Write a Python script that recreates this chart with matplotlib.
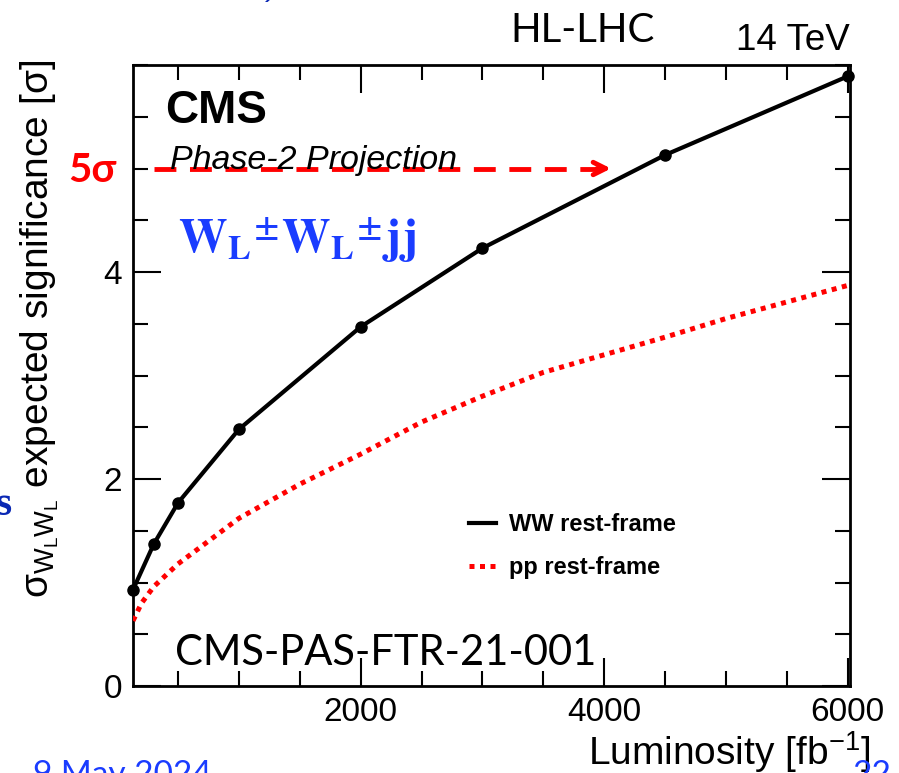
import numpy as np
import matplotlib.pyplot as plt
from matplotlib.ticker import MultipleLocator
from matplotlib.lines import Line2D

plt.rcParams['font.family'] = ['Liberation Sans', 'DejaVu Sans']
plt.rcParams['mathtext.default'] = 'regular'

# expected significance vs integrated luminosity
lumi_ww = [130, 300, 500, 1000, 2000, 3000, 4500, 6000]
sig_ww = [0.93, 1.37, 1.77, 2.48, 3.47, 4.23, 5.13, 5.89]

lumi_pp = [130, 200, 300, 500, 1000, 1500, 2000, 2500, 3000, 3500, 4000, 4500, 5000, 5500, 6000]
sig_pp = [0.63, 0.80, 0.96, 1.18, 1.62, 1.95, 2.24, 2.55, 2.80, 3.03, 3.20, 3.37, 3.55, 3.71, 3.87]

legend_labels = ['WW rest-frame', 'pp rest-frame']
x_ticks = [2000, 4000, 6000]
y_ticks = [0, 2, 4]
target_sigma = 5
arrow_span = [300, 4020]

blue = '#1a3cff'
red = '#ff0000'

fig = plt.figure(figsize=(8.99, 7.73), dpi=100)
ax = fig.add_axes([133/899, 1 - 686/773, 717/899, 621/773])

pp_line, = ax.plot(lumi_pp, sig_pp, color=red, lw=3.6, ls=(0, (1, 1.1)),
                   dash_capstyle='butt', zorder=3)
ww_line, = ax.plot(lumi_ww, sig_ww, color='black', lw=3, marker='o', ms=8,
                   zorder=4, clip_on=False)

ax.set_xlim(lumi_ww[0], 6020)
ax.set_ylim(0, 6)
ax.set_xticks(x_ticks)
ax.set_yticks(y_ticks)
ax.xaxis.set_minor_locator(MultipleLocator(500))
ax.yaxis.set_minor_locator(MultipleLocator(0.5))
ax.tick_params(which='both', direction='in', top=True, right=True, width=1.5,
               labelsize=24, pad=8)
ax.tick_params(which='major', length=20)
ax.tick_params(which='minor', length=11)
for sp in ax.spines.values():
    sp.set_linewidth(2)

# 5 sigma marker
ax.plot(arrow_span, [target_sigma, target_sigma], color=red, lw=3.5,
        ls=(0, (4.5, 2.8)), zorder=5)
ax.annotate('', xy=(arrow_span[1] + 60, target_sigma), xytext=(arrow_span[1] - 100, target_sigma),
            arrowprops=dict(arrowstyle='->,head_length=0.9,head_width=0.45', lw=3.5, color=red),
            zorder=5)
fig.text(68/899, 1 - 170/773, '5σ', color=red, fontsize=29, fontweight='bold',
         family=['Lato', 'DejaVu Sans'], va='center', ha='left')

# CMS labels
fig.text(165/899, 1 - 111/773, 'CMS', fontsize=33, fontweight='bold', va='center', ha='left')
fig.text(170/899, 1 - 160/773, 'Phase-2 Projection', fontsize=24.5, style='italic',
         va='center', ha='left')
fig.text(178/899, 1 - 240/773, r'$\mathbf{W_{L}{}^{\pm}W_{L}{}^{\pm}jj}$', color=blue,
         fontsize=35, va='center', ha='left', math_fontfamily='stix')

fig.text(510/899, 1 - 30/773, 'HL-LHC', fontsize=29, family=['Lato', 'DejaVu Sans'],
         va='center', ha='left')
fig.text(850/899, 1 - 40/773, '14 TeV', fontsize=26.5, va='center', ha='right')
fig.text(175/899, 1 - 653/773, 'CMS-PAS-FTR-21-001', fontsize=30,
         family=['Lato', 'DejaVu Sans'], va='center', ha='left')

# axis titles
fig.text(870/899, 1 - 752/773, r'Luminosity [fb$^{-1}$]', fontsize=28, ha='right', va='center')
fig.text(40/899, 1 - 60/773, r'σ$_{W_{L}W_{L}}$ expected significance [σ]', fontsize=28,
         rotation=90, ha='center', va='top')

handles = [Line2D([], [], color='black', lw=3),
           Line2D([], [], color=red, lw=3.6, ls=(0, (1, 1.1)), dash_capstyle='butt')]
ax.legend(handles, legend_labels, loc='upper left', bbox_to_anchor=(448/899, 1 - 492/773),
          bbox_transform=fig.transFigure, frameon=False, handlelength=1.15,
          handletextpad=0.55, labelspacing=0.85, prop={'weight': 'bold', 'size': 17})

# slide leftovers around the plot
fig.text(33/899, 1 - 760/773, '9 May 2024', color=blue, fontsize=24,
         family=['Lato', 'DejaVu Sans'], va='top', ha='left')
fig.text(852/899, 1 - 760/773, '22', color=blue, fontsize=24,
         family=['Lato', 'DejaVu Sans'], va='top', ha='left')
fig.text(-4/899, 1 - 505/773, 's', color='#0a28b4', fontsize=30, fontweight='bold',
         family='Liberation Serif', va='center', ha='left')
fig.text(268/899, 1 - 2/773, ')', color='#0a28b4', fontsize=22, style='italic',
         va='bottom', ha='left')

fig.savefig('out.png', dpi=100)
